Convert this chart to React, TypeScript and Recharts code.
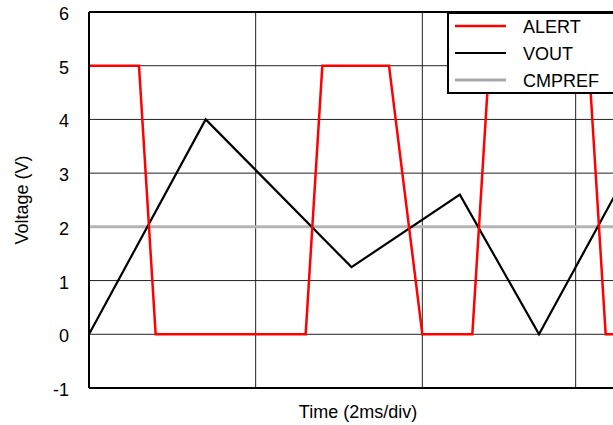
import React from 'react';
import { LineChart, Line, XAxis, YAxis, CartesianGrid, Legend, ReferenceLine } from 'recharts';

const FONT = '"Liberation Sans", Arial, Helvetica, sans-serif';

// time in ms
const T_END = 6.456;
const GRID_T = [2, 4, 5.84];
const VOLT_TICKS = [-1, 0, 1, 2, 3, 4, 5, 6];

const ALERT_T = [0, 0.6, 0.8, 2.6, 2.8, 3.6, 4.0, 4.6, 4.8, 6.0, 6.2, T_END];
const ALERT_V = [5, 5, 0, 0, 5, 5, 0, 0, 5, 5, 0, 0];

const VOUT_T = [0, 1.4, 3.15, 4.45, 5.4, T_END];
const VOUT_V = [0, 4, 1.25, 2.6, 0, 3.0];

const CMPREF_T = [0, T_END];
const CMPREF_V = [2, 2];

const SERIES = [
  { name: 'ALERT', color: '#ff0000', width: 2.5 },
  { name: 'VOUT', color: '#000000', width: 2.2 },
  { name: 'CMPREF', color: '#a8a8a8', width: 3 },
];

const zip = (t: number[], v: number[]) => t.map((x, i) => ({ t: x, v: v[i] }));
const alertData = zip(ALERT_T, ALERT_V);
const voutData = zip(VOUT_T, VOUT_V);
const cmprefData = zip(CMPREF_T, CMPREF_V);

const YTick = (props: any) => {
  const { x, y, payload } = props;
  return (
    <text x={x} y={y + 2} textAnchor="end" dominantBaseline="central" fontSize={18} fill="#000" fontFamily={FONT}>
      {payload.value}
    </text>
  );
};

const renderLegend = () => (
  <div style={{ width: 180, height: 82, boxSizing: 'border-box', border: '2px solid #000', background: '#fff' }}>
    <svg width={176} height={78} style={{ display: 'block' }}>
      {SERIES.map((s, i) => (
        <g key={s.name}>
          <line x1={6} x2={57} y1={12 + 27 * i} y2={12 + 27 * i} stroke={s.color} strokeWidth={s.width} />
          <text x={74} y={13 + 27 * i} dominantBaseline="central" fontSize={18} fontFamily={FONT} fill="#000">
            {s.name}
          </text>
        </g>
      ))}
    </svg>
  </div>
);

export default function App() {
  return (
    <div style={{ position: 'absolute', left: 0, top: 0, width: 613, height: 425, overflow: 'hidden', background: '#fff' }}>
      <LineChart width={640} height={425} margin={{ top: 12, right: 13, bottom: 0, left: 0 }}>
        <CartesianGrid stroke="#222" strokeWidth={1} vertical={false} />
        <XAxis
          type="number"
          dataKey="t"
          domain={[0, T_END]}
          ticks={GRID_T}
          tick={false}
          tickLine={false}
          allowDataOverflow
          axisLine={{ stroke: '#000', strokeWidth: 2 }}
          height={37}
          label={{
            content: (p: any) => {
              const vb = p.viewBox;
              return (
                <text x={vb.x + vb.width / 2} y={vb.y + 30} textAnchor="middle" fontSize={18} fontFamily={FONT} fill="#000">
                  Time (2ms/div)
                </text>
              );
            },
          }}
        />
        <YAxis
          type="number"
          domain={[-1, 6]}
          ticks={VOLT_TICKS}
          tickLine={false}
          tickSize={6}
          tickMargin={14}
          tick={<YTick />}
          axisLine={{ stroke: '#000', strokeWidth: 2 }}
          width={89}
          label={{
            content: (p: any) => {
              const vb = p.viewBox;
              const cx = 22;
              const cy = vb.y + vb.height / 2;
              return (
                <text x={cx} y={cy} transform={`rotate(-90 ${cx} ${cy})`} textAnchor="middle" dominantBaseline="central" fontSize={18} fontFamily={FONT} fill="#000">
                  Voltage (V)
                </text>
              );
            },
          }}
        />
        {GRID_T.map((t) => (
          <ReferenceLine key={t} x={t} stroke="#222" strokeWidth={1} />
        ))}
        <ReferenceLine y={6} stroke="#000" strokeWidth={2} />
        <Line data={cmprefData} dataKey="v" name="CMPREF" type="linear" stroke="#b4b4b4" strokeWidth={3} dot={false} isAnimationActive={false} />
        <Line data={voutData} dataKey="v" name="VOUT" type="linear" stroke="#000" strokeWidth={2.2} dot={false} isAnimationActive={false} />
        <Line data={alertData} dataKey="v" name="ALERT" type="linear" stroke="#ff0000" strokeWidth={2.5} dot={false} isAnimationActive={false} />
        <Legend
          layout="vertical"
          align="center"
          verticalAlign="middle"
          content={renderLegend}
          wrapperStyle={{ left: 447, top: 12, width: 180, height: 82 }}
        />
      </LineChart>
    </div>
  );
}
